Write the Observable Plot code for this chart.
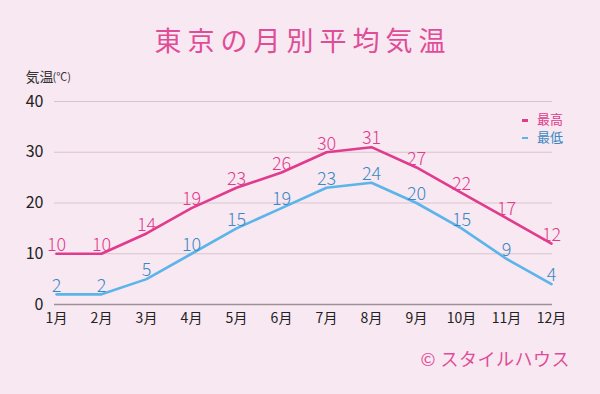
<!DOCTYPE html>
<html>
<head>
<meta charset="utf-8">
<script src="https://cdn.jsdelivr.net/npm/d3@7"></script>
<script src="https://cdn.jsdelivr.net/npm/@observablehq/plot@0.6"></script>
<style>
  html, body { margin: 0; padding: 0; }
  body {
    width: 600px; height: 394px; overflow: hidden; position: relative;
    background: #f8e8f2;
    font-family: "Noto Sans CJK JP", "Noto Sans", sans-serif;
  }
  #title {
    position: absolute; left: 3px; top: 20px; width: 600px; text-align: center;
    font-size: 27px; letter-spacing: 6px; color: #e04d97; line-height: 40px;
  }
  #chart { position: absolute; left: 0; top: 62px; }
  #legend {
    position: absolute; left: 522px; top: 110px; font-size: 13px; line-height: 17.5px;
  }
  #legend div { height: 17.5px; overflow: hidden; }
  #legend .sw { display: inline-block; width: 6px; height: 2.5px; vertical-align: middle; margin-right: 9px; }
  #caption {
    position: absolute; right: 30px; top: 345px; font-size: 18px; color: #e04d97; line-height: 26px;
    letter-spacing: 0.5px;
  }
</style>
</head>
<body>
<div id="title">東京の月別平均気温</div>
<div id="chart"></div>
<div id="legend"></div>
<div id="caption">© スタイルハウス</div>
<script>
const months = ["1月","2月","3月","4月","5月","6月","7月","8月","9月","10月","11月","12月"];
const highs = [10, 10, 14, 19, 23, 26, 30, 31, 27, 22, 17, 12];
const lows = [2, 2, 5, 10, 15, 19, 23, 24, 20, 15, 9, 4];
const yTicks = [0, 10, 20, 30, 40];
const seriesNames = ["最高", "最低"];
const lineColors = ["#e03b8c", "#5bb4ea"];
const labelColors = ["#e03b8c", "#3b88c2"];
const yLabelMain = "気温";
const yLabelUnit = "(℃)";

const rows = [];
months.forEach((m, i) => {
  rows.push({month: m, value: highs[i], series: seriesNames[0]});
  rows.push({month: m, value: lows[i], series: seriesNames[1]});
});

const font = "'Noto Sans CJK JP', sans-serif";

const chart = Plot.plot({
  width: 600,
  height: 290,
  marginLeft: 54,
  marginRight: 48,
  marginTop: 39,
  marginBottom: 48,
  style: {background: "transparent", fontFamily: font, overflow: "visible"},
  x: {type: "point", domain: months, padding: 0, label: null},
  y: {domain: [0, 40], label: null},
  color: {domain: seriesNames, range: lineColors},
  marks: [
    Plot.ruleY(yTicks.filter(d => d > 0), {stroke: "#d8c4cf", strokeWidth: 1}),
    Plot.ruleY([0], {stroke: "#9a9096", strokeWidth: 1.5}),
    Plot.axisY({ticks: yTicks, tickSize: 0, tickPadding: 11, fontSize: 16, fill: "#222", label: null}),
    Plot.axisX({tickSize: 0, tickPadding: 9, fontSize: 14, fill: "#222", label: null}),
    Plot.line(rows, {x: "month", y: "value", z: "series", stroke: "series", strokeWidth: 2.6}),
    Plot.text(rows, {
      x: "month", y: "value", text: d => String(d.value),
      fill: d => labelColors[seriesNames.indexOf(d.series)],
      dy: -8.5, fontSize: 18, fontWeight: 300
    }),
    Plot.text([yLabelMain], {frameAnchor: "top-left", textAnchor: "start", dx: -29, dy: -29, fontSize: 14, fill: "#333"}),
    Plot.text([yLabelUnit], {frameAnchor: "top-left", textAnchor: "start", dx: -2, dy: -28, fontSize: 11, fill: "#333"})
  ]
});
document.getElementById("chart").appendChild(chart);

const legend = document.getElementById("legend");
seriesNames.forEach((name, i) => {
  const row = document.createElement("div");
  row.innerHTML = `<span class="sw" style="background:${lineColors[i]}"></span><span style="color:${labelColors[i]}">${name}</span>`;
  legend.appendChild(row);
});
</script>
</body>
</html>
